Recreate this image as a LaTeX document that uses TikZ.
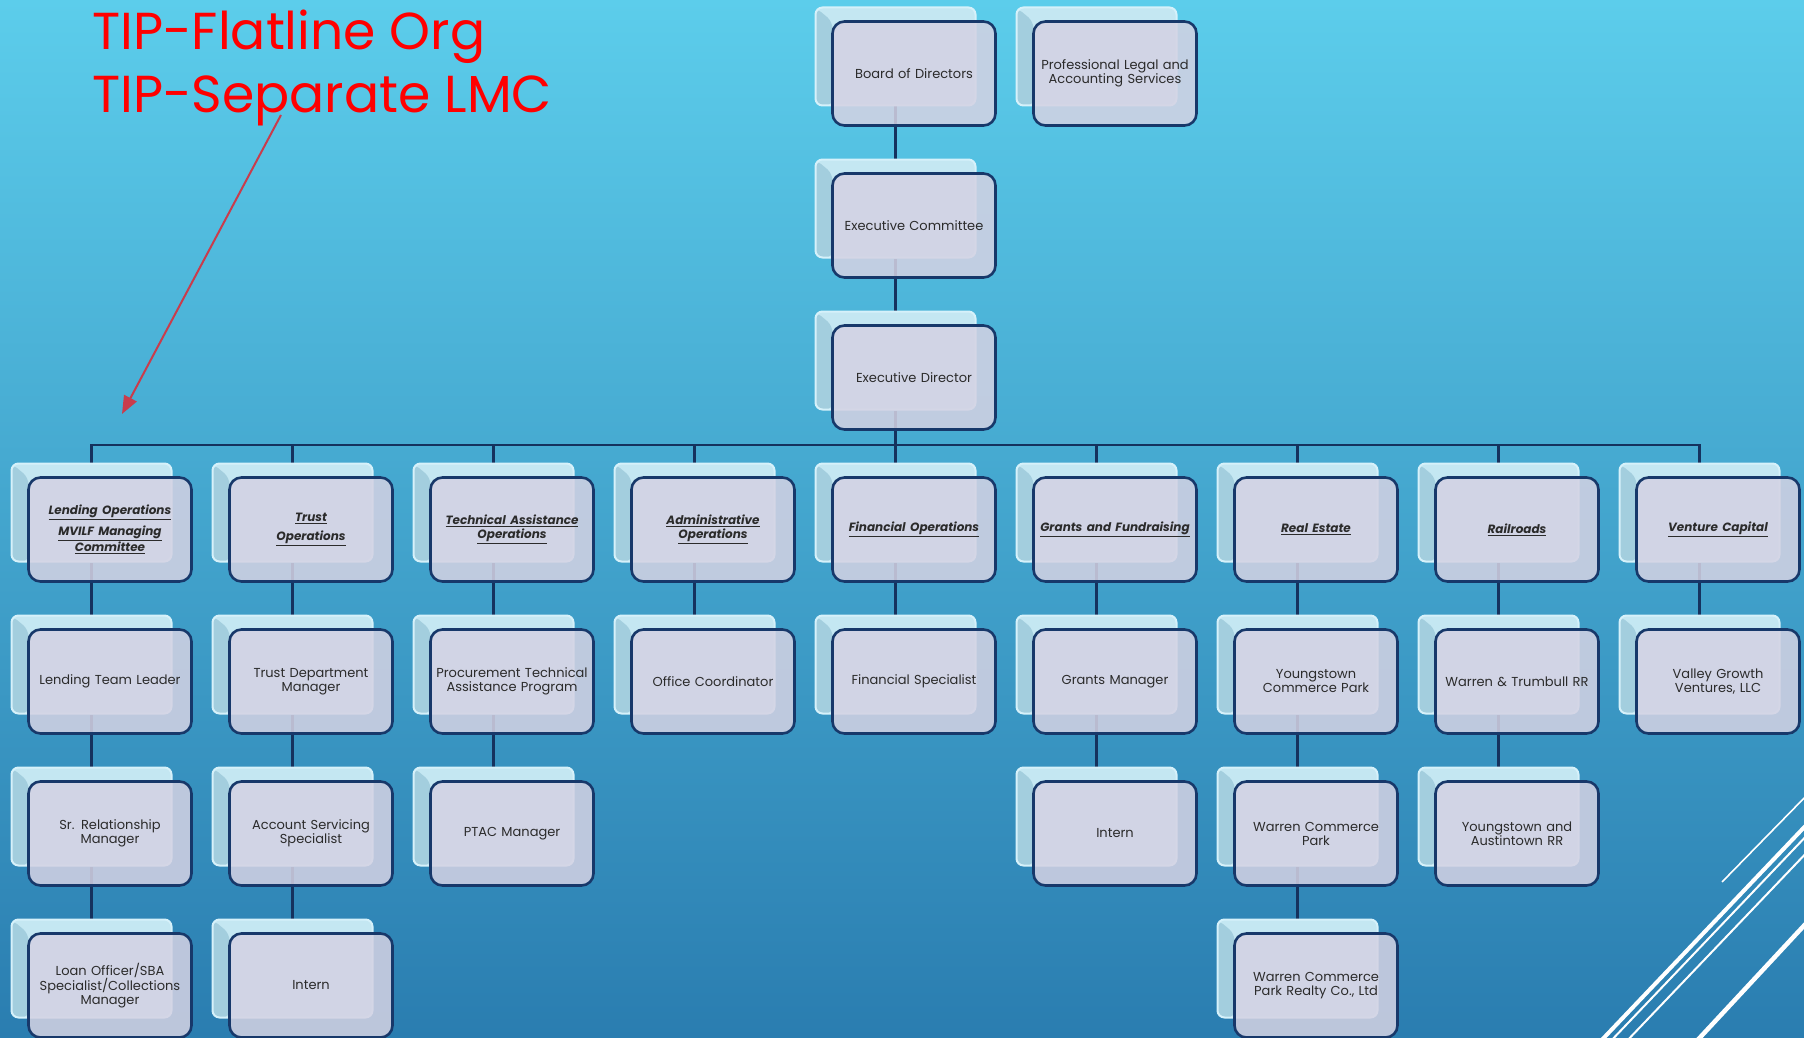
\documentclass[tikz,border=0pt]{standalone}
\usepackage{fontspec}
\setmainfont{Poppins}
\usetikzlibrary{arrows.meta}
\definecolor{bgtop}{HTML}{5CCDEB}
\definecolor{bgbot}{HTML}{2A7DB0}
\definecolor{navy}{HTML}{17386A}
\definecolor{lav}{HTML}{D4D2E3}
\definecolor{backfill}{HTML}{C4E7F2}
\definecolor{backedge}{HTML}{D6F1FA}
\definecolor{backdark}{HTML}{A3CEDE}
\definecolor{txt}{HTML}{2B2B2B}
\definecolor{arrowred}{HTML}{C93C4C}
\definecolor{titlered}{HTML}{FF0000}
\definecolor{connc}{HTML}{15325E}
\pgfdeclarelayer{bglayer}
\pgfdeclarelayer{edgelayer}
\pgfsetlayers{bglayer,edgelayer,main}
\newcommand\hdr[1]{{\fontsize{12}{14}\selectfont\bfseries\itshape\underline{#1}}}
\newcommand\orgbox[4]{%
  \node[backbox] (#1-b) at ({91.5+201*#2},{56.5+152*#3}) {};
  \node[frontbox] (#1) at ({110+201*#2},{73.5+152*#3}) {#4};
}
\tikzset{
  backbox/.style={draw=backedge, line width=2pt, rounded corners=7pt, fill=backfill,
    minimum width=160pt, minimum height=98pt, inner sep=0pt,
    path picture={\fill[backdark] (path picture bounding box.north west)
      -- ([xshift=17pt,yshift=-14pt]path picture bounding box.north west)
      -- ([xshift=17pt]path picture bounding box.south west)
      -- (path picture bounding box.south west) -- cycle;}},
  frontbox/.style={draw=navy, line width=2.6pt, rounded corners=12pt, fill=lav,
    fill opacity=0.86, text opacity=1, minimum width=163pt, minimum height=104pt,
    inner sep=0pt, align=center, text width=158pt, text=txt,
    font=\fontsize{13}{14}\selectfont},
  conn/.style={draw=connc, line width=2.8pt},
  title/.style={text=titlered, font=\fontsize{52}{60}\selectfont, anchor=base west, inner sep=0pt},
  deco/.style={draw=white},
}
\begin{document}
\begin{tikzpicture}[x=1pt,y=-1pt]
\useasboundingbox (0,0) rectangle (1804,1038);
\begin{pgfonlayer}{bglayer}
  \shade[top color=bgtop, bottom color=bgbot] (0,0) rectangle (1804,1038);
\end{pgfonlayer}

% top chain
\orgbox{bod}{4}{0}{Board of Directors}
\orgbox{plas}{5}{0}{Professional Legal and\\Accounting Services}
\orgbox{ec}{4}{1}{Executive Committee}
\orgbox{ed}{4}{2}{Executive Director}
% department heads
\orgbox{h0}{0}{3}{\hdr{Lending Operations}\\[5pt]\hdr{MVILF Managing}\\\hdr{Committee}}
\orgbox{h1}{1}{3}{\hdr{Trust}\\[5pt]\hdr{Operations}}
\orgbox{h2}{2}{3}{\hdr{Technical Assistance}\\\hdr{Operations}}
\orgbox{h3}{3}{3}{\hdr{Administrative}\\\hdr{Operations}}
\orgbox{h4}{4}{3}{\hdr{Financial Operations}}
\orgbox{h5}{5}{3}{\hdr{Grants and Fundraising}}
\orgbox{h6}{6}{3}{\hdr{Real Estate}}
\orgbox{h7}{7}{3}{\hdr{Railroads}}
\orgbox{h8}{8}{3}{\hdr{Venture Capital}}
% row 4
\orgbox{a0}{0}{4}{Lending Team Leader}
\orgbox{a1}{1}{4}{Trust Department\\Manager}
\orgbox{a2}{2}{4}{Procurement Technical\\Assistance Program}
\orgbox{a3}{3}{4}{Office Coordinator}
\orgbox{a4}{4}{4}{Financial Specialist}
\orgbox{a5}{5}{4}{Grants Manager}
\orgbox{a6}{6}{4}{Youngstown\\Commerce Park}
\orgbox{a7}{7}{4}{Warren \& Trumbull RR}
\orgbox{a8}{8}{4}{Valley Growth\\Ventures, LLC}
% row 5
\orgbox{b0}{0}{5}{Sr. Relationship\\Manager}
\orgbox{b1}{1}{5}{Account Servicing\\Specialist}
\orgbox{b2}{2}{5}{PTAC Manager}
\orgbox{b5}{5}{5}{Intern}
\orgbox{b6}{6}{5}{Warren Commerce\\Park}
\orgbox{b7}{7}{5}{Youngstown and\\Austintown RR}
% row 6
\orgbox{c0}{0}{6}{Loan Officer/SBA\\Specialist/Collections\\Manager}
\orgbox{c1}{1}{6}{Intern}
\orgbox{c6}{6}{6}{Warren Commerce\\Park Realty Co., Ltd}

\coordinate (busL) at (91.5,445);
\begin{pgfonlayer}{edgelayer}
  \draw[conn] (bod-b.south) -- (ec-b.north);
  \draw[conn] (ec-b.south) -- (ed-b.north);
  \draw[conn] (ed-b.south) -- (ed-b.south |- busL);
  \draw[conn] (h0-b.north) |- (h8-b.north |- busL) -- (h8-b.north);
  \foreach \n in {h1,h2,h3,h4,h5,h6,h7}
    \draw[conn] (\n-b.north) -- (\n-b.north |- busL);
  \foreach \p/\c in {h0/a0,h1/a1,h2/a2,h3/a3,h4/a4,h5/a5,h6/a6,h7/a7,h8/a8,
                     a0/b0,a1/b1,a2/b2,a5/b5,a6/b6,a7/b7,b0/c0,b1/c1,b6/c6}
    \draw[conn] (\p-b.south) -- (\c-b.north);
\end{pgfonlayer}

% title and arrow
\node[title] (t1) at (92,50) {TIP-Flatline Org};
\node[title] (t2) at (92,113) {TIP-Separate LMC};
\coordinate (arrS) at (281,115);
\coordinate (arrE) at (122,414);
\draw[arrowred, line width=2pt, -{Triangle[length=18pt,width=14pt]}] (arrS) -- (arrE);

% decorative lines
\begin{scope}
  \clip (0,0) rectangle (1804,1038);
  \draw[deco, line width=1.6pt] (1722,882) -- (1810,792);
  \draw[deco, line width=4pt] (1597,1045) -- (1812,819);
  \draw[deco, line width=2pt] (1607,1045) -- (1812,830);
  \draw[deco, line width=2pt] (1623,1045) -- (1812,847);
  \draw[deco, line width=4.5pt] (1693,1045) -- (1812,917);
\end{scope}
\end{tikzpicture}
\end{document}
